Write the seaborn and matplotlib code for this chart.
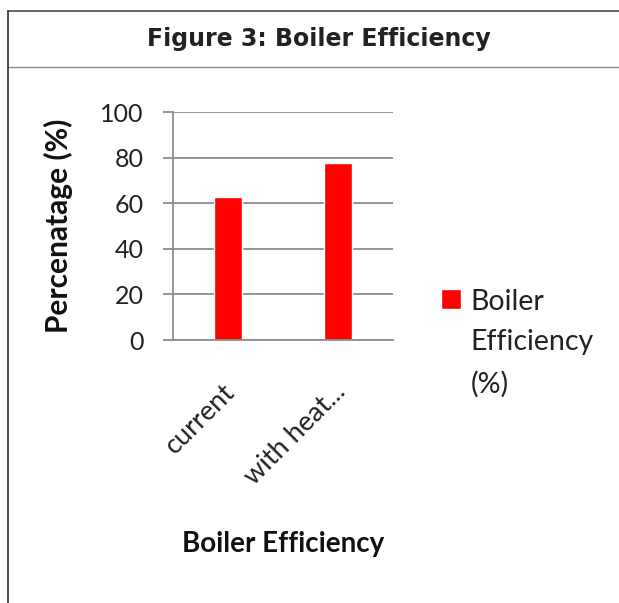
import pandas as pd
import seaborn as sns
import matplotlib.pyplot as plt
from matplotlib.lines import Line2D
from matplotlib.transforms import ScaledTranslation

# data
categories = ['current', 'with heat...']
efficiency = [62.7, 77.8]
series_label = 'Boiler\nEfficiency\n(%)'
y_ticks = [0, 20, 40, 60, 80, 100]

W, H = 619, 603
DPI = 100

sns.set_theme(style='white')
plt.rcParams['font.family'] = ['Lato', 'DejaVu Sans']

fig = plt.figure(figsize=(W / DPI, H / DPI), dpi=DPI)

# axes placed in pixel terms: y axis at x=173, plot top y=112, bottom y=340, right x=393
def px_box(left, top, right, bottom):
    return [left / W, 1 - bottom / H, (right - left) / W, (bottom - top) / H]

ax = fig.add_axes(px_box(173, 112, 393, 340))

df = pd.DataFrame({'category': categories, 'value': efficiency})
sns.barplot(data=df, x='category', y='value', color='#ff0000', saturation=1,
            width=0.25, label=series_label, ax=ax)

grey = '#8c8c8c'
ax.set_ylim(0, 100)
ax.set_yticks(y_ticks)
ax.yaxis.grid(True, color=grey, linewidth=1.3)
ax.set_axisbelow(True)
for side in ['top', 'right']:
    ax.spines[side].set_visible(False)
for side in ['left', 'bottom']:
    ax.spines[side].set_color(grey)
    ax.spines[side].set_linewidth(1.3)

ax.tick_params(axis='y', length=7, width=1.3, color=grey, pad=14,
               labelsize=18, labelcolor='#222222', left=True)
ax.tick_params(axis='x', length=0, pad=28, labelsize=19.5, labelcolor='#222222')
shift = ScaledTranslation(12 / DPI, 0, fig.dpi_scale_trans)
for lab in ax.get_xticklabels():
    lab.set_rotation(45)
    lab.set_ha('right')
    lab.set_va('top')
    lab.set_transform(lab.get_transform() + shift)

ax.set_xlabel('Boiler Efficiency', fontsize=20, fontweight='bold', color='#111111', labelpad=30)
ax.set_ylabel('Percenatage (%)', fontsize=21.5, fontweight='bold', color='#111111', labelpad=20)

leg = ax.legend(loc='upper left', bbox_to_anchor=(415 / W, 1 - 263 / H),
                bbox_transform=fig.transFigure, frameon=False, fontsize=20.5,
                handlelength=0.7, handleheight=0.7, handletextpad=0.35)
for t in leg.get_texts():
    t.set_linespacing(1.7)
    t.set_color('#222222')
# put the square beside the first line of the wrapped label
for column in leg._legend_handle_box.get_children():
    for item in column.get_children():
        item.align = 'top'

# framing box of the figure panel
def fig_line(x0, y0, x1, y1, color, lw):
    fig.add_artist(Line2D([x0 / W, x1 / W], [1 - y0 / H, 1 - y1 / H],
                          transform=fig.transFigure, color=color, linewidth=lw))

fig_line(8, 11, W, 11, '#666666', 1.4)
fig_line(8, 67, W, 67, '#8a8a8a', 1.0)
fig_line(8, 11, 8, H, '#333333', 1.2)

fig.text(319 / W, 1 - 39 / H, 'Figure 3: Boiler Efficiency', ha='center', va='center',
         fontsize=17, fontweight='bold', family='DejaVu Sans', color='#222222')

fig.savefig('out.png', dpi=DPI)
